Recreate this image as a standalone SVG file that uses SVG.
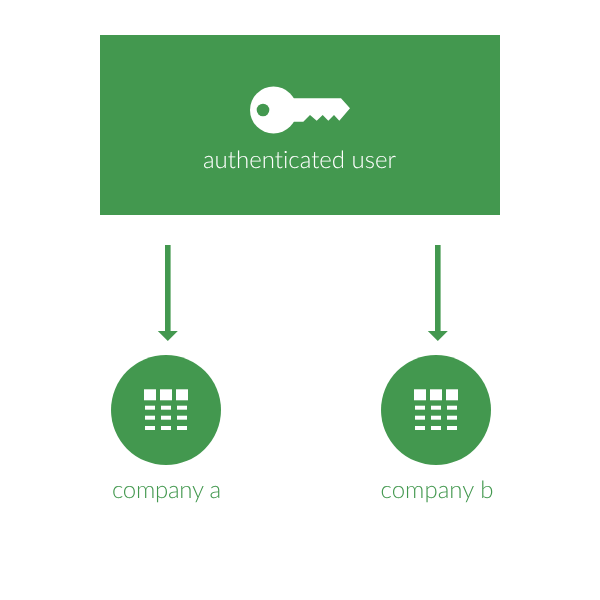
<svg xmlns="http://www.w3.org/2000/svg" width="600" height="600" viewBox="0 0 600 600">
<style>
.g{fill:#43984f}
.w{fill:#fff}
text{font-family:Lato,"Open Sans",sans-serif;font-weight:300;text-anchor:middle;font-size:24px;text-rendering:geometricPrecision;font-variant-ligatures:none;filter:url(#flat)}
.c{fill:#43984f}
</style>
<defs>
<filter id="flat" x="-10%" y="-30%" width="120%" height="160%" color-interpolation-filters="sRGB"><feOffset dx="0" dy="0"/></filter>
<g id="table" class="w">
<rect x="-22" y="-20.7" width="12" height="11"/><rect x="-6" y="-20.7" width="12" height="11"/><rect x="10" y="-20.7" width="12" height="11"/>
<rect x="-21" y="-4.3" width="10" height="4"/><rect x="-5" y="-4.3" width="10" height="4"/><rect x="11" y="-4.3" width="10" height="4"/>
<rect x="-21" y="5.7" width="10" height="4"/><rect x="-5" y="5.7" width="10" height="4"/><rect x="11" y="5.7" width="10" height="4"/>
<rect x="-21" y="16" width="10" height="4"/><rect x="-5" y="16" width="10" height="4"/><rect x="11" y="16" width="10" height="4"/>
</g>
</defs>
<g id="user">
<rect class="g" x="100" y="35" width="400" height="180"/>
<circle class="w" cx="273.5" cy="110" r="23.5"/>
<polygon class="w" points="290,98.3 341,98.3 350,108.3 339.3,120.7 334,115 328.3,120.7 322.7,115 316.7,120.7 310,115 303.3,121.7 290,121.7"/>
<circle class="g" cx="263" cy="110" r="6.3"/>
<text x="299.500" y="168" fill="#fff">authenticated user</text>
</g>
<g id="connectors">
<g class="g">
<rect x="165" y="245" width="5.600" height="87"/><polygon points="157.800,331 177.800,331 167.800,341"/>
<rect x="435" y="245" width="5.600" height="87"/><polygon points="427.800,331 447.800,331 437.800,341"/>
</g>
</g>
<g id="company-a">
<circle class="g" cx="166" cy="410" r="55"/>
<use href="#table" x="166" y="410"/>
<text class="c" x="166.500" y="498" textLength="109">company a</text>
</g>
<g id="company-b">
<circle class="g" cx="436" cy="410" r="55"/>
<use href="#table" x="436" y="410"/>
<text class="c" x="437" y="498">company b</text>
</g>
</svg>
